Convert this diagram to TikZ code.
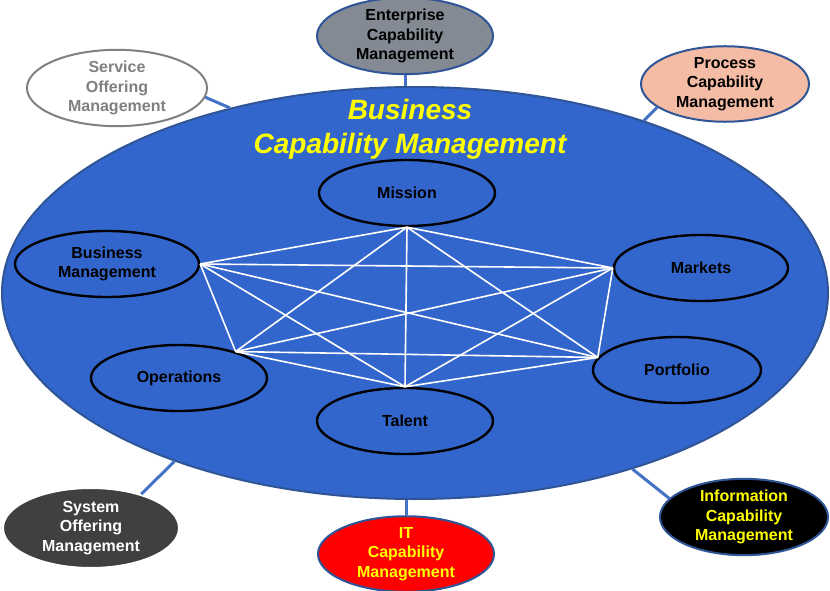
\documentclass[tikz,border=0pt]{standalone}
\usepackage{fontspec}
\setmainfont{Liberation Sans}
\usetikzlibrary{shapes.geometric}
\definecolor{bigblue}{HTML}{3366CC}
\definecolor{rimblue}{HTML}{2F5597}
\definecolor{linkblue}{HTML}{4472C4}
\definecolor{entgray}{HTML}{838A93}
\definecolor{peach}{HTML}{F4BCA4}
\definecolor{darkgray}{HTML}{404040}
\definecolor{txtgray}{HTML}{808080}
\definecolor{yel}{HTML}{FFFF00}
\tikzset{
  lbl/.style={font=\bfseries\fontsize{16}{19.5}\selectfont, align=center},
  inner/.style={ellipse, draw=black, line width=2.4pt, fill=bigblue, inner sep=0pt, lbl},
  outer/.style={ellipse, line width=2pt, inner sep=0pt, lbl},
  link/.style={draw=linkblue, line width=3pt},
  web/.style={draw=white, line width=1.6pt}
}
\begin{document}
\begin{tikzpicture}[x=1pt,y=-1pt]
\useasboundingbox[fill=white] (0,0) rectangle (830,591);
% big ellipse
\node[ellipse, draw=rimblue, line width=2pt, fill=bigblue, minimum width=826pt, minimum height=412pt, inner sep=0pt] (big) at (415,293) {};
\node[font=\bfseries\itshape\fontsize{28}{34}\selectfont, text=yel, align=center] (title) at (410,129) {Business\\Capability Management};
% inner ellipses
\node[inner, minimum width=176pt, minimum height=66pt] (mis) at (407,193) {Mission};
\node[inner, minimum width=184pt, minimum height=66pt] (bm) at (107,264) {Business\\Management};
\node[inner, minimum width=174pt, minimum height=66pt] (mkt) at (701,268) {Markets};
\node[inner, minimum width=176pt, minimum height=66pt] (ops) at (179,378) {Operations};
\node[inner, minimum width=168pt, minimum height=66pt] (pf) at (677,370) {Portfolio};
\node[inner, minimum width=176pt, minimum height=66pt] (tal) at (405,421) {Talent};
% web end points
\coordinate (pM) at (mis.south);
\coordinate (pB) at (bm.east);
\coordinate (pK) at (mkt.west);
\coordinate (pO) at (ops.25);
\coordinate (pP) at (pf.171);
\coordinate (pT) at (tal.north);
\foreach \a/\b in {pM/pB,pM/pK,pM/pO,pM/pP,pM/pT,pB/pK,pB/pO,pB/pP,pB/pT,pK/pO,pK/pP,pK/pT,pO/pP,pO/pT,pP/pT}
  \draw[web] (\a) -- (\b);
% outer ellipses
\node[outer, draw=rimblue, fill=entgray, minimum width=176pt, minimum height=66pt] (ent) at (405,36) {Enterprise\\Capability\\Management};
\node[outer, draw=txtgray, fill=white, text=txtgray, minimum width=180pt, minimum height=64pt] (svc) at (117,88) {Service\\Offering\\Management};
\node[outer, draw=rimblue, fill=peach, minimum width=168pt, minimum height=66pt] (proc) at (725,84) {Process\\Capability\\Management};
\node[outer, draw=white, fill=darkgray, text=white, minimum width=176pt, minimum height=80pt] (sys) at (91,528) {System\\Offering\\Management};
\node[outer, draw=rimblue, fill=red, text=yel, minimum width=176pt, minimum height=70pt] (it) at (406,554) {IT\\Capability\\Management};
\node[outer, draw=rimblue, fill=black, text=yel, minimum width=168pt, minimum height=74pt] (info) at (744,517) {Information\\Capability\\Management};
% connectors
\draw[link] (svc.354) -- (big.135);
\draw[link] (ent.south) -- (ent.south |- big.north);
\draw[link] (proc.199) -- (big.37);
\draw[link] (sys.34) -- (big.215);
\draw[link] (it.north) -- (it.north |- big.south);
\draw[link] (info.166) -- (big.321);
\end{tikzpicture}
\end{document}
